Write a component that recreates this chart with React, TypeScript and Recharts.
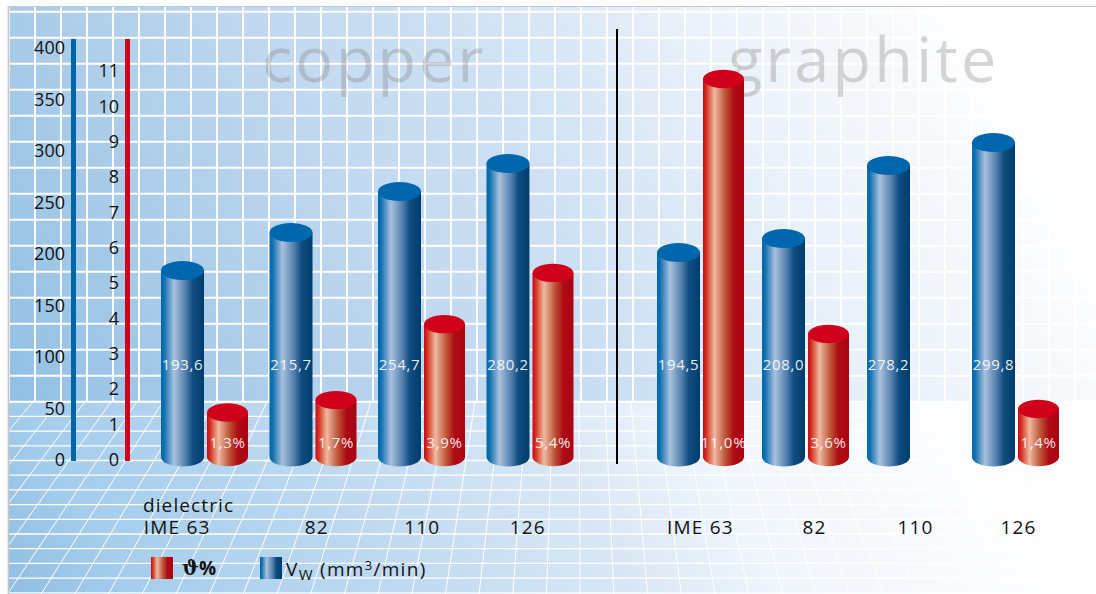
import { Bar, ComposedChart, XAxis, YAxis } from "recharts";

const copperCategories = ["IME 63", "82", "110", "126"];
const copperWear = [181.1, 218, 257.8, 285];
const copperWearLabels = ["193,6", "215,7", "254,7", "280,2"];
const copperGap = [1.26, 1.61, 3.76, 5.21];
const copperGapLabels = ["1,3%", "1,7%", "3,9%", "5,4%"];

const graphiteCategories = ["IME 63", "82", "110", "126"];
const graphiteWear = [198.5, 212.1, 283, 305.3];
const graphiteWearLabels = ["194,5", "208,0", "278,2", "299,8"];
const graphiteGap = [10.7, 3.48, null, 1.36];
const graphiteGapLabels = ["11,0%", "3,6%", "", "1,4%"];

const wearTicks = [0, 50, 100, 150, 200, 250, 300, 350, 400];
const gapTicks = [0, 1, 2, 3, 4, 5, 6, 7, 8, 9, 10, 11];

const WIDTH = 1096;
const HEIGHT = 594;
const FONT = "'Open Sans', sans-serif";

function buildRows(
  categories: string[],
  wear: number[],
  wearLabels: string[],
  gap: (number | null)[],
  gapLabels: string[],
) {
  return categories.map((category, i) => ({
    category,
    wear: wear[i],
    wearLabel: wearLabels[i],
    gap: gap[i],
    gapLabel: gapLabels[i],
  }));
}

const copperRows = buildRows(copperCategories, copperWear, copperWearLabels, copperGap, copperGapLabels);
const graphiteRows = buildRows(graphiteCategories, graphiteWear, graphiteWearLabels, graphiteGap, graphiteGapLabels);

// the printed category labels do not sit exactly under their bar groups
const COPPER_TICK_SHIFT = [-27, 4, 1, -2];
const GRAPHITE_TICK_SHIFT = [0, 9, 5, 3];

function Background() {
  const wallX: number[] = [];
  for (let x = 9; x < WIDTH; x += 26) wallX.push(x);
  const wallY: number[] = [];
  for (let y = 11.7; y < 402; y += 26) wallY.push(y);
  const floorY: number[] = [];
  for (let y = 401.7; y < HEIGHT; y += 14.7) floorY.push(y);
  const floorX: number[] = [];
  for (let x = -1553; x < 2600; x += 26) floorX.push(x);

  return (
    <svg
      width={WIDTH}
      height={HEIGHT}
      style={{ position: "absolute", left: 0, top: 0 }}
    >
      <defs>
        <linearGradient id="wallFill" gradientUnits="userSpaceOnUse" x1={0} y1={594} x2={1000} y2={50}>
          <stop offset="0.1" stopColor="#93c1e5" />
          <stop offset="0.25" stopColor="#a8cbe8" />
          <stop offset="0.47" stopColor="#c4daf0" />
          <stop offset="0.58" stopColor="#cde0f3" />
          <stop offset="0.76" stopColor="#e8f0f9" />
          <stop offset="1" stopColor="#ffffff" />
        </linearGradient>
        <linearGradient id="floorFill" gradientUnits="userSpaceOnUse" x1={0} y1={594} x2={1000} y2={50}>
          <stop offset="0" stopColor="#8fbde2" />
          <stop offset="0.1" stopColor="#a5cdec" />
          <stop offset="0.29" stopColor="#bcd8f0" />
          <stop offset="0.5" stopColor="#dbe8f5" />
          <stop offset="0.6" stopColor="#eff5fc" />
          <stop offset="0.8" stopColor="#fcfdff" />
          <stop offset="1" stopColor="#ffffff" />
        </linearGradient>
        <linearGradient id="blueCylinder" x1="0" y1="0" x2="1" y2="0">
          <stop offset="0" stopColor="#0068ad" />
          <stop offset="0.07" stopColor="#0f6fb0" />
          <stop offset="0.3" stopColor="#a9c1de" />
          <stop offset="0.58" stopColor="#4f7dab" />
          <stop offset="0.74" stopColor="#0f4d80" />
          <stop offset="1" stopColor="#003d6d" />
        </linearGradient>
        <linearGradient id="redCylinder" x1="0" y1="0" x2="1" y2="0">
          <stop offset="0" stopColor="#d0021b" />
          <stop offset="0.08" stopColor="#d3341f" />
          <stop offset="0.28" stopColor="#efb9a1" />
          <stop offset="0.55" stopColor="#bc5335" />
          <stop offset="0.75" stopColor="#ae0a14" />
          <stop offset="1" stopColor="#aa0414" />
        </linearGradient>
        <clipPath id="floorClip">
          <rect x={9} y={402} width={WIDTH - 9} height={HEIGHT - 402} />
        </clipPath>
      </defs>
      <rect x={9} y={7} width={WIDTH - 9} height={HEIGHT - 7} fill="url(#wallFill)" />
      <rect x={9} y={402} width={WIDTH - 9} height={HEIGHT - 402} fill="url(#floorFill)" />
      {wallX.map((x) => (
        <line key={x} x1={x} x2={x} y1={7} y2={402} stroke="#fff" strokeWidth={1.9} />
      ))}
      {wallY.map((y) => (
        <line key={y} x1={9} x2={WIDTH} y1={y} y2={y} stroke="#fff" strokeWidth={1.9} />
      ))}
      <g clipPath="url(#floorClip)">
        {floorY.map((y) => (
          <line key={y} x1={9} x2={WIDTH} y1={y} y2={y} stroke="#fff" strokeWidth={1.3} />
        ))}
        {floorX.map((x) => (
          <line
            key={x}
            x1={x}
            y1={401.7}
            x2={x + (x - 575) * 0.3}
            y2={401.7 + 195}
            stroke="#fff"
            strokeWidth={1}
          />
        ))}
      </g>
      <line x1={9} x2={WIDTH} y1={6.5} y2={6.5} stroke="#c4c6c8" strokeWidth={1.2} />
      <line x1={8.5} x2={8.5} y1={6} y2={HEIGHT} stroke="#c4c6c8" strokeWidth={1.7} />
      <text x={262} y={82} fontFamily={FONT} fontSize={63} fontWeight={500} letterSpacing={3} fill="#7f7f7f" fillOpacity={0.32}>
        copper
      </text>
      <text x={728} y={82} fontFamily={FONT} fontSize={63} fontWeight={500} letterSpacing={3.2} fill="#7f7f7f" fillOpacity={0.32}>
        graphite
      </text>
      <rect x={616} y={29} width={2} height={435} fill="#000" />
    </svg>
  );
}

function Cylinder(props: any) {
  const { x, y, width, height, payload, gradient, cap, ry, labelKey, labelRise } = props;
  if (!height || height <= 0) return null;
  const rx = width / 2;
  const base = y + height;
  return (
    <g>
      <path
        d={`M${x},${y} L${x},${base} A${rx},${ry} 0 0 0 ${x + width},${base} L${x + width},${y} Z`}
        fill={`url(#${gradient})`}
      />
      <ellipse cx={x + rx} cy={y} rx={rx} ry={ry} fill={cap} />
      <text
        x={x + rx}
        y={base - labelRise}
        textAnchor="middle"
        dominantBaseline="central"
        fontFamily={FONT}
        fontSize={15}
        letterSpacing={0.7}
        fill="#fff"
        fillOpacity={0.92}
      >
        {payload[labelKey]}
      </text>
    </g>
  );
}

function CategoryTick(props: any) {
  const { x, y, payload, index, shifts, showDielectric } = props;
  return (
    <g>
      {showDielectric && index === 0 && (
        <text x={143} y={y + 42.7} fontFamily={FONT} fontSize={19} letterSpacing={1.1} fill="#111">
          dielectric
        </text>
      )}
      <text
        x={x + shifts[index]}
        y={y + 65}
        textAnchor="middle"
        fontFamily={FONT}
        fontSize={19}
        letterSpacing={1.2}
        fill="#111"
      >
        {payload.value}
      </text>
    </g>
  );
}

function Panel({
  rows,
  margin,
  padLeft,
  shifts,
  showAxes,
}: {
  rows: ReturnType<typeof buildRows>;
  margin: { top: number; right: number; bottom: number; left: number };
  padLeft: number;
  shifts: number[];
  showAxes: boolean;
}) {
  const tickStyle = { fontSize: 18, fill: "#111", fontFamily: FONT, dy: 2.7 };
  return (
    <ComposedChart
      width={WIDTH}
      height={HEIGHT}
      data={rows}
      margin={margin}
      barGap={3}
      style={{ position: "absolute", left: 0, top: 0 }}
    >
      <XAxis
        dataKey="category"
        xAxisId="groups"
        interval={0}
        axisLine={false}
        tickLine={false}
        padding={{ left: padLeft, right: 0 }}
        height={133}
        tick={<CategoryTick shifts={shifts} showDielectric={showAxes} />}
      />
      <YAxis
        yAxisId="gap"
        hide={!showAxes}
        width={54}
        domain={[-0.113, 11.83]}
        ticks={gapTicks}
        interval={0}
        tickSize={0}
        tickMargin={8.5}
        tickLine={false}
        axisLine={{ stroke: "#d0021b", strokeWidth: 5 }}
        tick={tickStyle}
      />
      <YAxis
        yAxisId="wear"
        hide={!showAxes}
        width={54}
        domain={[-3.88, 405.8]}
        ticks={wearTicks}
        interval={0}
        tickSize={0}
        tickMargin={8.5}
        tickLine={false}
        axisLine={{ stroke: "#0066a8", strokeWidth: 5 }}
        tick={tickStyle}
      />
      <Bar
        dataKey="wear"
        xAxisId="groups"
        yAxisId="wear"
        barSize={43}
        isAnimationActive={false}
        shape={<Cylinder gradient="blueCylinder" cap="#0066ad" ry={9.5} labelKey="wearLabel" labelRise={93} />}
      />
      <Bar
        dataKey="gap"
        xAxisId="groups"
        yAxisId="gap"
        barSize={41}
        isAnimationActive={false}
        shape={<Cylinder gradient="redCylinder" cap="#d0021b" ry={9.2} labelKey="gapLabel" labelRise={15} />}
      />
    </ComposedChart>
  );
}

function LegendBlock() {
  return (
    <svg width={WIDTH} height={HEIGHT} style={{ position: "absolute", left: 0, top: 0, pointerEvents: "none" }}>
      <rect x={151} y={557} width={22} height={22} fill="url(#redCylinder)" />
      <text x={182} y={575} fontFamily="'DejaVu Serif', serif" fontWeight={700} fontSize={20} fill="#111">
        ϑ
        <tspan fontFamily={FONT} fontSize={19}>%</tspan>
      </text>
      <rect x={260} y={557} width={22} height={22} fill="url(#blueCylinder)" />
      <text x={286} y={576} fontFamily={FONT} fontSize={19} letterSpacing={1.3} fill="#111">
        V
        <tspan fontSize={15} dy={4}>W</tspan>
        <tspan dy={-4}> (mm</tspan>
        <tspan fontSize={13} dy={-6}>3</tspan>
        <tspan dy={6}>/min)</tspan>
      </text>
    </svg>
  );
}

export default function App() {
  return (
    <div style={{ position: "absolute", left: 0, top: 0, width: WIDTH, height: HEIGHT, background: "#fff", overflow: "hidden" }}>
      <Background />
      <Panel
        rows={copperRows}
        margin={{ top: 39, right: 512, bottom: 0, left: 19.5 }}
        padLeft={22.5}
        shifts={COPPER_TICK_SHIFT}
        showAxes
      />
      <Panel
        rows={graphiteRows}
        margin={{ top: 39, right: 28, bottom: 0, left: 648 }}
        padLeft={0}
        shifts={GRAPHITE_TICK_SHIFT}
        showAxes={false}
      />
      <LegendBlock />
    </div>
  );
}
